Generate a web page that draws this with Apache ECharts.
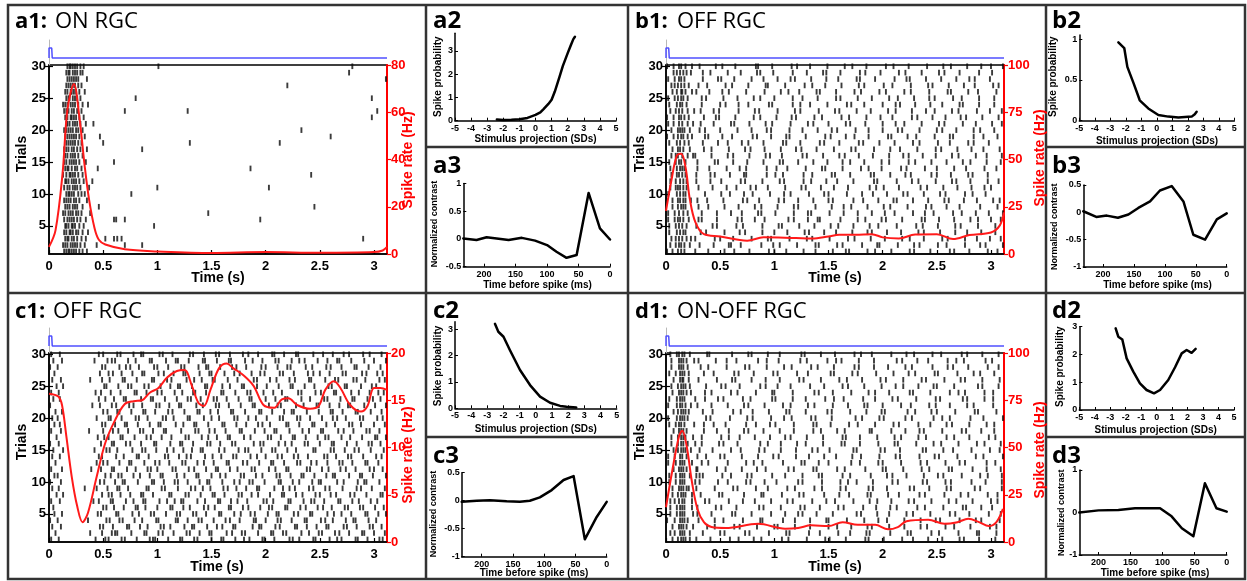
<!DOCTYPE html>
<html><head><meta charset="utf-8">
<script src="https://cdn.jsdelivr.net/npm/echarts@6/dist/echarts.min.js"></script>
<style>html,body{margin:0;padding:0;background:#fff}#c{width:1247px;height:581px}</style>
</head><body><div id="c"></div>
<script>
// ---------------- tick labels ----------------
const timeTicks = [0, 0.5, 1, 1.5, 2, 2.5, 3];
const trialTicks = [5, 10, 15, 20, 25, 30];
const projTicks = [-5, -4, -3, -2, -1, 0, 1, 2, 3, 4, 5];
const lagTicks = [0, 50, 100, 150, 200];

// stimulus trace (time s, level)
const stimT = [0, 0, 0.025, 0.03, 3.12];
const stimV = [0, 1, 1, 0, 0];

// ---------------- raster spike times (centiseconds), one row per trial 1..30 ----------------
const a1Spikes = [
[14,16,18,19,21,23,25,28,31,35],
[13,15,17,20,22,24,26,29,33,44,70,86],
[15,17,18,21,23,26,30,34,52,60,63,67,290],
[14,16,19,20,22,25,27,31,36],
[15,16,18,21,22,24,28,32,97],
[14,17,19,21,23,26,29,34,60,62,70,195],
[13,15,18,20,22,25,27,30,38,147],
[15,17,19,22,24,26,31,46,245],
[14,16,18,20,23,25,28,35],
[16,18,19,21,23,27,30,33,76],
[14,17,19,22,24,26,29,37,100,203],
[15,16,18,21,23,25,28,32,40],
[13,16,19,20,22,24,27,31,242],
[15,17,18,21,24,26,30,45,186],
[14,16,19,21,23,25,28,34,60],
[15,17,20,22,24,27,31],
[14,16,18,21,23,26,29,35,86],
[16,18,20,22,24,27,30,50,130,213],
[15,17,19,21,23,25,28,33,47,260],
[14,16,18,20,22,25,27,31,233],
[16,17,19,22,24,26,29,34,41],
[15,17,20,21,23,25,28,32,298],
[14,16,18,21,23,26,30,70,128,303],
[13,15,17,20,22,24,27,31,36],
[16,18,19,22,24,26,29,80,298],
[15,17,20,21,23,25,28,33],
[16,18,20,22,24,27,30,220],
[17,19,21,23,25,27,35,311],
[16,18,19,22,24,26,29,31,277],
[17,19,20,22,24,26,29,32,101,280]
];
const b1Spikes = [
[1,6,11,14,17,27,39,54,63,77,95,100,111,127,138,154,166,169,186,193,208,225,229,244,262,266,280,297,306],
[4,9,12,14,17,22,31,44,58,60,69,88,99,105,121,138,141,158,163,181,195,197,214,229,234,251,259,276,290,295,311],
[5,9,12,15,19,23,27,45,50,62,79,94,97,114,130,135,151,168,174,189,202,218,225,238,255,260,276,287,299,309],
[3,10,13,16,18,32,37,54,68,73,89,100,112,128,132,146,157,172,186,190,204,217,233,238,253,267,278,291,304],
[3,9,12,15,19,28,43,47,65,71,89,104,107,123,137,152,159,173,188,196,213,231,237,251,267,272,288,304],
[2,8,11,13,16,21,30,33,47,66,70,82,91,113,118,131,140,142,161,177,184,199,203,218,236,239,252,266,281,288,300,309],
[2,8,12,16,20,33,47,60,70,85,88,101,118,131,134,151,164,177,190,202,211,228,239,247,265,273,286,298,311],
[6,11,14,16,18,30,39,54,67,82,88,103,118,122,138,153,164,171,186,201,207,223,240,245,259,271,290,306],
[6,11,13,16,18,23,29,38,53,71,75,86,104,109,122,136,150,154,173,182,196,210,213,228,242,257,261,275,287,302,308],
[2,10,13,16,18,36,51,59,72,80,96,109,115,132,146,150,167,181,191,204,219,223,238,253,258,276,283,295],
[4,9,11,13,16,19,30,43,56,65,78,83,94,110,125,129,143,155,168,188,194,201,215,235,241,256,269,282,294,300],
[4,9,13,16,19,28,41,51,69,73,89,105,109,127,134,148,158,173,192,195,213,227,233,249,264,268,281,297,307],
[5,10,12,15,18,28,41,45,59,72,74,93,101,108,127,135,153,156,170,189,192,207,221,226,245,250,263,279,283,297],
[4,10,13,15,17,29,40,56,68,74,93,102,112,129,144,147,163,180,187,199,217,222,239,250,266,277,294,305],
[3,9,12,14,18,29,45,48,62,75,90,105,108,122,136,149,163,170,183,199,206,224,230,245,259,274,281,296,309],
[5,9,11,15,20,25,27,42,57,62,77,92,96,107,126,130,145,160,165,178,191,206,219,224,237,249,264,270,286,296,310],
[6,11,13,16,22,35,42,58,73,78,91,106,120,125,139,155,171,175,192,207,216,232,249,254,269,282,293,308],
[3,10,13,17,21,34,48,57,70,76,90,108,111,124,142,146,160,178,182,197,211,228,234,251,262,279,284,298],
[1,7,11,14,16,20,24,36,39,52,61,80,84,97,111,114,129,147,152,166,174,187,205,208,223,231,248,262,265,284,293,306],
[5,11,13,15,17,22,31,36,50,66,79,93,97,114,126,140,153,158,175,187,200,214,218,234,250,255,268,284,290,303],
[2,7,12,15,20,25,32,44,60,63,77,92,98,115,131,136,150,166,170,184,200,212,220,236,252,257,274,286,301,310],
[1,7,12,14,17,21,35,46,49,64,81,87,102,116,120,137,144,162,169,185,198,209,227,232,246,258,272,277,292,307],
[4,9,12,15,20,26,32,44,49,67,82,86,103,119,124,141,156,160,176,189,205,212,227,240,248,264,270,287,299,310],
[3,10,13,15,19,33,50,55,67,76,95,98,117,124,133,149,167,171,183,200,212,216,230,244,255,271,274,289,303],
[2,8,11,14,16,20,33,37,53,66,81,87,100,117,126,140,157,161,177,190,206,214,229,243,248,265,273,289,303],
[6,10,14,15,18,24,28,40,52,58,74,91,106,113,123,139,142,157,174,180,197,203,220,226,243,260,263,279,288,305],
[5,8,11,14,17,21,30,38,55,61,76,92,94,110,128,135,147,162,178,183,201,209,226,242,246,261,275,285,302,307],
[2,8,12,14,17,34,48,51,63,79,90,103,115,119,134,148,159,176,179,193,211,222,225,240,254,268,280,285,299],
[7,10,13,16,19,23,34,41,57,69,84,87,99,117,130,145,148,161,179,184,198,215,221,236,252,257,271,289,301],
[1,7,12,14,18,24,31,46,52,64,83,85,98,116,121,133,149,165,172,185,203,210,224,241,256,263,278,291,300,311]
];
const c1Spikes = [
[2,9,43,52,55,67,70,81,93,96,98,110,121,123,134,137,150,159,161,172,180,185,197,199,208,222,225,231,244,246,259,266,270,283,285,294,305,308],
[6,38,49,58,61,63,76,88,90,101,105,115,127,130,139,148,150,164,169,178,181,193,205,207,216,219,233,240,249,252,264,268,277,289,291,300,310],
[3,11,47,50,59,72,74,84,91,103,106,112,125,132,134,146,155,160,170,172,188,194,196,209,213,227,229,238,247,256,258,272,275,284,296,299,307],
[1,8,36,53,56,65,68,79,86,99,101,117,119,128,138,141,152,163,167,176,189,191,200,211,214,224,236,238,251,255,262,274,281,283,295,302],
[5,12,45,48,62,64,77,83,94,97,108,118,121,133,136,145,157,159,171,177,186,190,202,210,212,226,230,241,243,257,263,270,279,292,294,304,311],
[4,50,53,60,69,80,82,89,100,112,114,124,130,143,147,153,166,168,179,184,195,203,206,218,220,232,237,248,253,261,273,276,287,290,301,309],
[2,10,41,46,57,59,71,78,87,89,102,109,116,122,124,137,144,156,158,168,174,183,198,201,207,221,223,235,242,245,254,267,269,280,286,297,303],
[7,13,49,55,58,66,75,85,87,96,111,113,126,129,140,151,153,162,175,178,187,193,204,215,217,228,234,246,250,260,265,278,282,293,306,308],
[3,9,33,44,54,63,65,73,90,92,104,107,119,131,135,142,149,161,165,173,182,192,194,208,216,222,227,240,244,255,259,271,284,288,298,310],
[1,11,47,51,61,68,70,82,95,97,106,116,119,128,139,146,148,160,171,176,185,188,199,212,214,225,231,243,249,251,266,272,285,291,293,305],
[5,8,52,57,64,67,78,84,93,103,105,118,125,136,138,150,158,163,177,180,191,197,210,213,223,233,235,245,256,262,264,277,287,289,299,311],
[2,12,39,48,58,60,72,80,91,94,100,114,117,129,134,145,154,156,167,174,187,190,203,209,219,221,238,241,252,258,269,274,283,296,300,308],
[6,44,50,54,65,74,76,88,98,102,111,123,126,137,143,152,164,166,179,183,194,205,207,217,229,232,242,247,257,268,271,280,292,294,304],
[3,10,46,49,62,69,81,83,92,107,110,120,127,131,144,151,159,170,173,186,192,200,211,215,226,230,239,254,257,265,276,279,290,302,307],
[4,13,42,53,56,63,77,86,89,99,109,115,124,132,140,142,157,162,175,181,184,196,206,209,220,228,244,246,260,263,273,282,286,297,309],
[1,9,48,58,60,71,75,85,97,99,112,121,123,133,146,149,158,169,172,189,195,198,212,218,224,236,239,250,261,263,275,284,295,298,306],
[7,45,51,55,66,68,79,90,94,104,113,126,129,141,147,155,165,167,180,186,202,205,214,225,227,237,248,255,258,270,278,289,301,303,311],
[2,11,37,50,59,64,73,84,87,96,106,108,122,135,138,148,153,163,176,178,190,199,208,210,222,234,240,251,253,267,272,281,293,296,305],
[5,10,49,52,61,70,72,82,93,101,103,117,124,134,136,147,160,162,173,182,193,197,204,219,221,231,243,245,256,264,277,280,288,300,310],
[3,8,44,55,57,67,80,83,91,105,108,115,128,130,143,150,157,171,174,184,191,201,213,216,229,232,241,252,262,266,274,287,290,303,308],
[6,12,50,54,63,65,76,87,89,98,110,114,125,137,139,149,156,168,170,181,194,196,206,217,224,226,238,249,260,262,271,283,285,297,307],
[1,40,47,58,62,74,78,86,99,102,111,120,122,136,142,154,157,166,177,188,190,203,211,214,228,235,247,249,259,268,276,278,291,301,311],
[4,10,46,52,60,69,71,85,94,96,107,118,128,131,140,152,155,164,175,185,187,200,209,218,220,233,241,254,257,269,280,282,294,299,306],
[2,9,43,48,57,66,79,81,90,100,104,116,123,133,135,145,159,161,172,183,186,198,207,215,230,233,246,251,263,265,279,286,296,304,309],
[7,13,51,53,64,73,76,88,92,103,112,119,121,132,144,146,160,167,178,180,192,201,212,223,225,236,245,258,261,273,275,288,298,302],
[3,11,38,49,56,68,70,81,95,97,109,113,127,134,141,151,153,165,174,189,192,204,210,222,227,240,242,255,264,267,281,284,292,305,310],
[5,47,55,59,67,77,86,88,101,106,115,124,126,139,148,150,162,171,176,187,195,199,213,216,226,239,244,250,259,271,274,289,293,303,308],
[1,8,49,52,65,71,75,83,97,100,110,122,125,138,145,147,158,169,173,182,196,200,211,220,223,237,243,256,260,270,282,284,295,306],
[4,12,42,54,58,61,73,80,93,95,108,117,119,129,142,144,155,166,168,181,188,197,209,212,224,231,236,248,257,266,268,279,291,300,311],
[2,10,46,50,63,66,78,85,87,102,105,114,130,133,143,154,157,167,179,184,193,206,208,217,228,230,244,253,262,272,277,290,296,307]
];
const d1Spikes = [
[6,11,14,16,18,22,28,41,59,67,81,88,107,113,130,147,151,166,184,187,201,218,228,242,255,271,275,289,304],
[4,8,13,15,17,22,34,50,54,73,77,95,111,114,132,142,159,170,185,188,207,223,226,245,252,270,287,289,305],
[6,12,14,16,19,25,38,45,63,68,84,100,103,119,133,150,158,171,186,190,206,220,235,241,258,266,281,299,305],
[1,8,13,15,17,20,30,45,53,71,87,89,108,119,133,148,150,167,183,196,204,220,235,249,253,271,286,291,308],
[4,10,13,15,17,25,29,42,61,64,79,97,110,122,126,139,154,176,180,195,206,222,228,244,262,267,280,298,309],
[4,10,13,15,17,24,29,46,51,65,86,90,106,124,128,142,159,164,182,194,207,213,232,239,256,274,277,291,301],
[4,8,12,15,17,24,36,40,58,71,82,97,112,117,135,148,156,173,188,195,208,224,229,245,261,268,283,300,306],
[6,11,14,16,18,24,32,49,52,72,88,90,107,123,127,146,160,169,186,189,205,215,234,239,257,272,279,297,306],
[6,12,14,16,19,21,28,45,62,66,83,94,112,119,137,144,161,166,187,191,204,225,229,243,259,263,285,290,310],
[3,9,13,15,17,27,31,48,57,74,78,91,102,122,126,144,161,168,176,191,209,214,237,241,258,263,282,295,310],
[3,9,13,15,17,22,28,31,34,52,60,75,79,98,110,126,141,144,163,170,189,204,209,222,238,251,256,273,290,297,310],
[7,12,14,16,19,28,29,47,55,70,84,92,113,118,136,139,158,165,184,200,203,219,236,243,261,264,283,296,309],
[2,9,13,15,17,24,33,39,57,74,81,89,108,125,128,141,150,171,179,196,200,217,235,241,258,271,276,296,304],
[2,8,13,15,19,29,37,50,54,70,85,99,104,120,132,146,157,172,180,197,212,216,234,248,252,269,286,293,311],
[7,11,14,16,18,23,31,43,60,69,86,91,106,120,135,140,151,173,176,198,202,216,237,240,256,265,282,299,308],
[5,11,14,16,20,27,33,49,53,66,87,94,106,121,129,145,162,165,179,196,211,214,231,247,254,270,287,294,309],
[5,11,14,16,18,25,33,51,58,68,82,96,110,115,130,145,163,166,179,195,211,217,233,240,259,266,280,298,304],
[7,12,14,16,19,35,47,58,72,76,90,105,118,136,143,158,165,188,190,208,221,234,238,255,273,277,291,303],
[3,9,12,14,17,26,35,44,55,74,83,96,101,118,136,139,152,169,177,193,210,215,233,244,259,264,280,296,303],
[2,10,13,15,17,20,37,41,59,75,80,97,109,116,134,138,153,175,181,197,201,221,227,247,255,262,281,293,311],
[7,11,14,16,18,21,34,43,62,69,80,95,111,114,129,149,153,170,185,199,202,223,230,245,250,267,285,288,305],
[2,10,13,15,18,23,29,42,57,72,76,91,108,115,131,137,154,168,183,186,200,217,226,243,249,262,278,284,302],
[3,10,13,15,17,27,36,48,53,71,78,98,101,117,129,147,155,164,182,193,209,214,231,249,253,274,278,294,302],
[6,12,14,16,19,23,36,42,60,66,83,98,100,117,137,141,154,171,187,193,206,225,228,244,262,270,276,294,302],
[5,11,14,16,18,22,37,51,55,68,87,92,103,115,133,146,163,168,183,199,212,219,233,247,250,266,288,292,307],
[7,13,15,16,21,30,47,61,64,79,92,105,123,127,143,160,167,181,198,203,219,236,240,257,272,276,292,308],
[3,9,13,15,17,21,35,44,63,67,81,99,103,121,131,152,155,172,177,194,210,224,230,248,251,269,284,290,303],
[5,12,14,16,20,32,39,56,73,77,93,109,116,134,140,155,174,178,192,205,221,227,246,260,265,279,297,307],
[5,12,14,16,19,26,30,46,56,65,85,93,104,124,130,149,157,162,178,192,213,218,232,242,260,268,275,295,301],
[4,10,12,15,17,22,38,40,61,76,79,94,105,125,128,143,156,174,180,190,208,222,229,246,254,273,278,292,307]
];

// ---------------- spike-rate curves ----------------
const a1RateT = [0,0.06,0.125,0.17,0.23,0.28,0.33,0.37,0.42,0.46,0.52,0.7,1.0,1.5,2.0,2.5,3.0,3.08,3.12];
const a1RateHz = [3,10,34,61,72,58,37,23,11,6,4,2,1.1,0.4,0.8,0.5,0.8,1.5,3];
const b1RateT = [0,0.05,0.1,0.14,0.18,0.22,0.27,0.35,0.5,0.75,0.9,1.2,1.35,1.5,1.6,1.75,1.9,2.0,2.15,2.3,2.5,2.65,2.8,3.0,3.08,3.12];
const b1RateHz = [22.8,39,52,53,46,29,17,10.5,9.3,7,8.8,8.4,8.2,9.3,10.2,10.2,10.5,8.8,8.2,10.3,10.5,7.9,10,11.4,15,22];
const c1RateT = [0,0.086,0.12,0.16,0.21,0.26,0.31,0.36,0.44,0.52,0.61,0.7,0.78,0.86,0.93,1.01,1.09,1.18,1.25,1.32,1.38,1.43,1.49,1.57,1.64,1.7,1.8,1.89,1.98,2.08,2.15,2.21,2.29,2.41,2.49,2.55,2.63,2.69,2.78,2.88,2.94,3.0,3.06,3.12];
const c1RateHz = [15.7,15.4,14.5,11.2,6.9,3.8,2.1,3.1,6.9,10.5,12.9,14.6,14.9,15,15.8,16.3,17.4,18.1,18.2,16.5,14.7,14.4,16.1,18.4,18.9,18.4,17.6,16.5,14.5,14.2,15.1,15.2,14.5,14.1,14.4,16.1,17,16.3,14.5,13.8,14.4,16.3,16.3,16.1];
const d1RateT = [0,0.055,0.12,0.15,0.19,0.24,0.29,0.35,0.42,0.55,0.85,1.1,1.22,1.34,1.5,1.63,1.77,1.93,2.05,2.14,2.22,2.42,2.57,2.69,2.79,2.89,2.98,3.05,3.11];
const d1RateHz = [18.4,36.8,56,58.8,50.9,31.6,17.5,10.5,7.9,7.4,9.6,7,7.4,8.8,8.4,10.5,9.1,9.1,6.7,7.9,11,11.8,9.6,10.5,12.3,10.5,8.4,10.5,17.5];

// ---------------- nonlinearities (stimulus projection SDs -> spike probability) ----------------
const a2X = [-2.4,-2,-1.5,-1,-0.5,0,0.3,0.5,0.8,1,1.2,1.5,1.7,2,2.2,2.35,2.45];
const a2Y = [0.05,0.03,0.04,0.06,0.12,0.25,0.36,0.5,0.72,0.9,1.25,1.9,2.35,2.9,3.25,3.5,3.6];
const b2X = [-2.48,-2.1,-1.9,-1.5,-1.1,-0.55,0.1,0.74,1.39,2.25,2.45,2.57];
const b2Y = [0.96,0.89,0.66,0.46,0.25,0.15,0.07,0.05,0.04,0.05,0.08,0.11];
const c2X = [-2.53,-2.32,-2.0,-1.6,-0.98,-0.36,0.26,0.88,1.5,1.9,2.5];
const c2Y = [3.2,2.9,2.71,2.2,1.45,0.88,0.44,0.21,0.09,0.06,0.03];
const d2X = [-2.65,-2.48,-2.22,-1.94,-1.51,-1.08,-0.65,-0.17,0.22,0.75,1.19,1.62,1.94,2.26,2.52];
const d2Y = [2.94,2.64,2.54,1.86,1.38,0.96,0.72,0.6,0.72,1.08,1.54,2.04,2.16,2.06,2.2];

// ---------------- temporal filters (ms before spike -> normalized contrast) ----------------
const a3Lag = [233,212,196,180,161,140,119,100,85,69,53,34,16,0];
const a3Val = [0.01,-0.02,0.03,0.01,-0.02,0.02,-0.03,-0.11,-0.23,-0.34,-0.29,0.83,0.19,-0.01];
const b3Lag = [232,211,194,176,159,143,124,108,89,70,54,35,16,0];
const b3Val = [0.02,-0.085,-0.06,-0.1,-0.04,0.08,0.2,0.4,0.48,0.2,-0.41,-0.5,-0.13,-0.02];
const c3Lag = [232,208,187,160,139,123,107,88,69,53,35,16,0];
const c3Val = [-0.02,0,0.01,-0.01,-0.02,0,0.06,0.19,0.37,0.44,-0.69,-0.29,-0.02];
const d3Lag = [230,200,169,143,122,104,86,70,52,34,16,0];
const d3Val = [0,0.05,0.06,0.1,0.1,0.1,-0.09,-0.37,-0.56,0.69,0.1,0.02];

// ---------------- build ----------------
const F = '"Liberation Sans", Arial, sans-serif';
const TF = '"Open Sans", "Noto Sans", sans-serif';
const grids = [], xAxes = [], yAxes = [], series = [], graphics = [];
const zip = (a, b) => a.map((v, i) => [v, b[i]]);
function raster(rows) {
  const out = [];
  rows.forEach((r, i) => r.forEach(cs => out.push([cs / 100, i + 1])));
  return out;
}
function addGrid(l, t, w, h, extra) {
  grids.push(Object.assign({left: l, top: t, width: w, height: h, containLabel: false, outerBoundsMode: 'none'}, extra || {}));
  return grids.length - 1;
}
const blackLine = w => ({show: true, onZero: false, lineStyle: {color: '#000', width: w}});

function bigPanel(p) {
  const g = addGrid(p.left, p.top, 338, 189, {show: true, borderColor: '#000', borderWidth: 1.5, backgroundColor: 'rgba(0,0,0,0)'});
  const xi = xAxes.length;
  xAxes.push({gridIndex: g, type: 'value', min: 0, max: 3.12,
    axisLine: blackLine(1.5),
    axisTick: {show: true, inside: true, length: 4, customValues: timeTicks, lineStyle: {color: '#000', width: 1.2}},
    axisLabel: {show: true, customValues: timeTicks, margin: 6, color: '#000', fontFamily: F, fontWeight: 'bold', fontSize: 13},
    splitLine: {show: false}});
  const yTr = yAxes.length;
  yAxes.push({gridIndex: g, type: 'value', position: 'left', min: 0.6, max: 30.2,
    axisLine: blackLine(1.5),
    axisTick: {show: true, inside: true, length: 4, customValues: trialTicks, lineStyle: {color: '#000', width: 1.2}},
    axisLabel: {show: true, customValues: trialTicks, margin: 3, color: '#000', fontFamily: F, fontWeight: 'bold', fontSize: 13},
    splitLine: {show: false}});
  const yR = yAxes.length;
  yAxes.push({gridIndex: g, type: 'value', position: 'right', min: 0, max: p.rateMax, interval: p.rateInt,
    axisLine: {show: true, onZero: false, lineStyle: {color: '#ff0000', width: 2}},
    axisTick: {show: true, inside: false, length: 4, lineStyle: {color: '#ff0000', width: 1.2}},
    axisLabel: {show: true, margin: 4, color: '#ff0000', fontFamily: F, fontWeight: 'bold', fontSize: 13},
    splitLine: {show: false}});
  yAxes.push({gridIndex: g, type: 'value', position: 'right', min: 0.6, max: 30.2,
    axisLine: {show: false},
    axisTick: {show: true, inside: true, length: 4, customValues: trialTicks, lineStyle: {color: '#000', width: 1.2}},
    axisLabel: {show: false}, splitLine: {show: false}});
  series.push({type: 'scatter', xAxisIndex: xi, yAxisIndex: yTr, data: raster(p.spikes), symbol: 'rect',
    symbolSize: [1.9, 5.6], itemStyle: {color: '#0a0a0a'}, silent: true, z: 2, animation: false});
  series.push({type: 'line', xAxisIndex: xi, yAxisIndex: yR, data: zip(p.rateT, p.rateHz), smooth: 0.35,
    symbol: 'none', lineStyle: {color: '#ff1a1a', width: 2}, silent: true, z: 5, clip: false});
  // stimulus trace above
  const gs = addGrid(p.left, p.top - 25, 338, 25);
  const xs = xAxes.length;
  xAxes.push({gridIndex: gs, type: 'value', min: 0, max: 3.12, show: false});
  const ys = yAxes.length;
  yAxes.push({gridIndex: gs, type: 'value', min: -0.7, max: 1.8,
    axisLine: {show: true, onZero: false, lineStyle: {color: '#b8b8b8', width: 1}},
    axisTick: {show: false}, axisLabel: {show: false}, splitLine: {show: false}});
  series.push({type: 'line', xAxisIndex: xs, yAxisIndex: ys, data: zip(stimT, stimV), symbol: 'none',
    lineStyle: {color: '#5050ff', width: 1.5}, clip: false, silent: true});
}

function smallPanel(p) {
  const g = addGrid(p.left, p.top, p.w, p.h);
  const xi = xAxes.length;
  xAxes.push({gridIndex: g, type: 'value', min: p.xmin, max: p.xmax, inverse: !!p.inverse,
    axisLine: blackLine(1.5),
    axisTick: {show: true, inside: true, length: 3, customValues: p.xticks, lineStyle: {color: '#000', width: 1}},
    axisLabel: {show: true, customValues: p.xticks, margin: 3, color: '#000', fontFamily: F, fontWeight: 'bold', fontSize: 9},
    splitLine: {show: false}});
  const yi = yAxes.length;
  yAxes.push({gridIndex: g, type: 'value', min: p.ymin, max: p.ymax,
    axisLine: blackLine(1.5),
    axisTick: {show: true, inside: true, length: 3, customValues: p.yticks, lineStyle: {color: '#000', width: 1}},
    axisLabel: {show: true, customValues: p.yticks, margin: 2, color: '#000', fontFamily: F, fontWeight: 'bold', fontSize: 9},
    splitLine: {show: false}});
  series.push({type: 'line', xAxisIndex: xi, yAxisIndex: yi, data: zip(p.x, p.y), symbol: 'none',
    lineStyle: {color: '#000', width: 2.5, cap: 'round', join: 'round'}, clip: false, silent: true});
}

bigPanel({left: 49, top: 65, spikes: a1Spikes, rateT: a1RateT, rateHz: a1RateHz, rateMax: 80, rateInt: 20});
bigPanel({left: 666, top: 65, spikes: b1Spikes, rateT: b1RateT, rateHz: b1RateHz, rateMax: 100, rateInt: 25});
bigPanel({left: 49, top: 353, spikes: c1Spikes, rateT: c1RateT, rateHz: c1RateHz, rateMax: 20, rateInt: 5});
bigPanel({left: 666, top: 353, spikes: d1Spikes, rateT: d1RateT, rateHz: d1RateHz, rateMax: 100, rateInt: 25});

smallPanel({left: 455, top: 33.3, w: 161, h: 87.4, xmin: -5, xmax: 5, xticks: projTicks, ymin: 0, ymax: 3.75, yticks: [0,1,2,3], x: a2X, y: a2Y});
smallPanel({left: 463.3, top: 183.5, w: 146.7, h: 83.2, xmin: 0, xmax: 233, inverse: true, xticks: lagTicks, ymin: -0.5, ymax: 1, yticks: [-0.5,0,0.5,1], x: a3Lag, y: a3Val});
smallPanel({left: 1079.3, top: 35, w: 155, h: 85.7, xmin: -5, xmax: 5, xticks: projTicks, ymin: 0, ymax: 1.05, yticks: [0,0.5,1], x: b2X, y: b2Y});
smallPanel({left: 1083.3, top: 185, w: 143.4, h: 82, xmin: 0, xmax: 232, inverse: true, xticks: lagTicks, ymin: -1, ymax: 0.5, yticks: [-1,-0.5,0,0.5], x: b3Lag, y: b3Val});
smallPanel({left: 455, top: 321.7, w: 161.7, h: 86.6, xmin: -5, xmax: 5, xticks: projTicks, ymin: 0, ymax: 3.28, yticks: [0,1,2,3], x: c2X, y: c2Y});
smallPanel({left: 461.7, top: 472.7, w: 145, h: 84, xmin: 0, xmax: 232, inverse: true, xticks: lagTicks, ymin: -1, ymax: 0.5, yticks: [-1,-0.5,0,0.5], x: c3Lag, y: c3Val});
smallPanel({left: 1079.3, top: 326.7, w: 154.7, h: 83.3, xmin: -5, xmax: 5, xticks: projTicks, ymin: 0, ymax: 3, yticks: [0,1,2,3], x: d2X, y: d2Y});
smallPanel({left: 1079.3, top: 470, w: 147.4, h: 85, xmin: 0, xmax: 230, inverse: true, xticks: lagTicks, ymin: -1, ymax: 1, yticks: [-1,0,1], x: d3Lag, y: d3Val});

// ---------------- frame lines ----------------
const FR = {stroke: '#333', lineWidth: 2.5};
graphics.push({type: 'rect', shape: {x: 8, y: 5, width: 1237, height: 574}, style: Object.assign({fill: 'none'}, FR), silent: true});
[[426,5,426,579],[628,5,628,579],[1046,5,1046,579],[8,293,1245,293],
 [426,147,628,147],[1046,147,1245,147],[426,437,628,437],[1046,437,1245,437]].forEach(l =>
  graphics.push({type: 'line', shape: {x1: l[0], y1: l[1], x2: l[2], y2: l[3]}, style: FR, silent: true}));

// ---------------- texts ----------------
function txt(x, y, text, font, fill, align, rot) {
  graphics.push({type: 'text', x: x, y: y, rotation: rot ? Math.PI / 2 : 0, silent: true, z: 10,
    style: {text: text, font: font, fill: fill || '#000', align: align || 'center', verticalAlign: 'middle'}});
}
const T1b = 'bold 22px ' + TF, T1 = '22px ' + TF, T2 = 'bold 24px ' + TF;
txt(15, 22, 'a1:', T1b, '#000', 'left'); txt(55, 22, 'ON RGC', T1, '#000', 'left');
txt(635, 22, 'b1:', T1b, '#000', 'left'); txt(677, 22, 'OFF RGC', T1, '#000', 'left');
txt(15, 312, 'c1:', T1b, '#000', 'left'); txt(53, 312, 'OFF RGC', T1, '#000', 'left');
txt(635, 312, 'd1:', T1b, '#000', 'left'); txt(677, 312, 'ON-OFF RGC', T1, '#000', 'left');
txt(433, 21, 'a2', T2, '#000', 'left'); txt(433, 166, 'a3', T2, '#000', 'left');
txt(1052, 21, 'b2', T2, '#000', 'left'); txt(1052, 166, 'b3', T2, '#000', 'left');
txt(433, 311, 'c2', T2, '#000', 'left'); txt(433, 456, 'c3', T2, '#000', 'left');
txt(1052, 311, 'd2', T2, '#000', 'left'); txt(1052, 456, 'd3', T2, '#000', 'left');

const AN = 'bold 14px ' + F, SN = 'bold 10px ' + F, SN9 = 'bold 9px ' + F;
[[22,154,218,278,408,160],[640,154,835,278,1040,158],[22,442,217,567,408,455],[640,442,835,567,1040,450]].forEach(a => {
  txt(a[0], a[1], 'Trials', AN, '#000', 'center', true);
  txt(a[2], a[3], 'Time (s)', AN, '#000', 'center');
  txt(a[4], a[5], 'Spike rate (Hz)', AN, '#ff0000', 'center', true);
});
[[438.3,76.7,535.5,139.3],[1053.3,76.7,1157,141.7],[438.3,366,535.8,429.3],[1060,366.7,1155.7,430]].forEach(a => {
  txt(a[0], a[1], 'Spike probability', SN, '#000', 'center', true);
  txt(a[2], a[3], 'Stimulus projection (SDs)', SN, '#000', 'center');
});
[[435,224,537.5,285],[1055,226.7,1157.5,285],[434,514,534,573.3],[1061.7,512.7,1155,573.3]].forEach(a => {
  txt(a[0], a[1], 'Normalized contrast', SN9, '#000', 'center', true);
  txt(a[2], a[3], 'Time before spike (ms)', SN, '#000', 'center');
});

const chart = echarts.init(document.getElementById('c'), null, {renderer: 'canvas', width: 1247, height: 581});
chart.setOption({
  animation: false,
  backgroundColor: '#fff',
  grid: grids, xAxis: xAxes, yAxis: yAxes, series: series, graphic: graphics
});
</script>
</body></html>
